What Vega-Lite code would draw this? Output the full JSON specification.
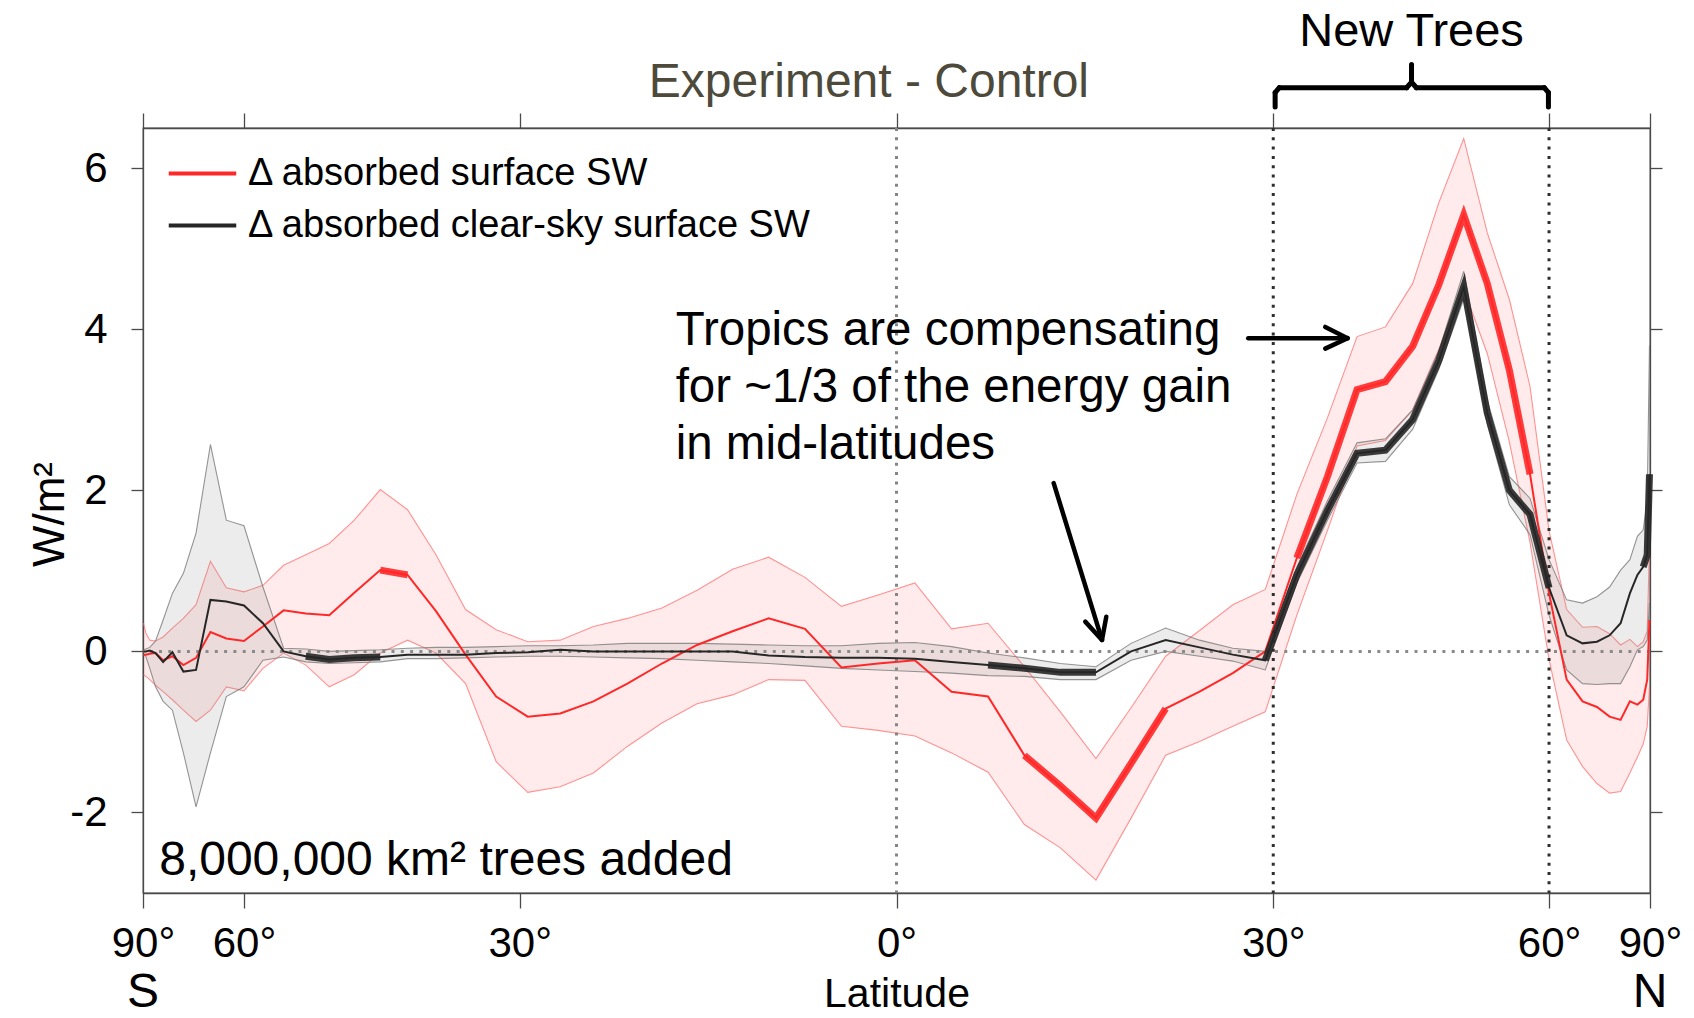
{
  "$schema": "https://vega.github.io/schema/vega-lite/v6.json",
  "width": 1507,
  "height": 765,
  "autosize": {"type": "none"},
  "padding": {"left": 143, "top": 128, "right": 44, "bottom": 125},
  "background": "white",
  "config": {
    "font": "Liberation Sans",
    "view": {"stroke": "#4a4a4a", "strokeWidth": 1.3},
    "text": {"font": "Liberation Sans"}
  },
  "datasets": {
    "zonal": [
      {"series": "Δ absorbed surface SW", "sinlat": -0.9993, "dsw": -0.04, "lo": -0.29, "hi": 0.35},
      {"series": "Δ absorbed surface SW", "sinlat": -0.9963, "dsw": -0.04, "lo": -0.31, "hi": 0.23},
      {"series": "Δ absorbed surface SW", "sinlat": -0.9910, "dsw": -0.03, "lo": -0.35, "hi": 0.14},
      {"series": "Δ absorbed surface SW", "sinlat": -0.9833, "dsw": -0.02, "lo": -0.42, "hi": 0.13},
      {"series": "Δ absorbed surface SW", "sinlat": -0.9733, "dsw": -0.11, "lo": -0.50, "hi": 0.18},
      {"series": "Δ absorbed surface SW", "sinlat": -0.9610, "dsw": -0.06, "lo": -0.60, "hi": 0.29},
      {"series": "Δ absorbed surface SW", "sinlat": -0.9464, "dsw": -0.17, "lo": -0.73, "hi": 0.41},
      {"series": "Δ absorbed surface SW", "sinlat": -0.9296, "dsw": -0.08, "lo": -0.87, "hi": 0.58},
      {"series": "Δ absorbed surface SW", "sinlat": -0.9105, "dsw": 0.24, "lo": -0.73, "hi": 1.12},
      {"series": "Δ absorbed surface SW", "sinlat": -0.8894, "dsw": 0.16, "lo": -0.44, "hi": 0.79},
      {"series": "Δ absorbed surface SW", "sinlat": -0.8660, "dsw": 0.13, "lo": -0.49, "hi": 0.74},
      {"series": "Δ absorbed surface SW", "sinlat": -0.8408, "dsw": 0.31, "lo": -0.21, "hi": 0.82},
      {"series": "Δ absorbed surface SW", "sinlat": -0.8134, "dsw": 0.51, "lo": -0.02, "hi": 1.07},
      {"series": "Δ absorbed surface SW", "sinlat": -0.7840, "dsw": 0.47, "lo": -0.17, "hi": 1.20},
      {"series": "Δ absorbed surface SW", "sinlat": -0.7528, "dsw": 0.45, "lo": -0.44, "hi": 1.34},
      {"series": "Δ absorbed surface SW", "sinlat": -0.7196, "dsw": 0.73, "lo": -0.29, "hi": 1.63},
      {"series": "Δ absorbed surface SW", "sinlat": -0.6851, "dsw": 1.01, "lo": -0.02, "hi": 2.01, "run": "R1"},
      {"series": "Δ absorbed surface SW", "sinlat": -0.6489, "dsw": 0.95, "lo": 0.14, "hi": 1.76, "run": "R1"},
      {"series": "Δ absorbed surface SW", "sinlat": -0.6112, "dsw": 0.50, "lo": -0.02, "hi": 1.20},
      {"series": "Δ absorbed surface SW", "sinlat": -0.5719, "dsw": -0.04, "lo": -0.40, "hi": 0.52},
      {"series": "Δ absorbed surface SW", "sinlat": -0.5313, "dsw": -0.56, "lo": -1.37, "hi": 0.27},
      {"series": "Δ absorbed surface SW", "sinlat": -0.4894, "dsw": -0.81, "lo": -1.75, "hi": 0.12},
      {"series": "Δ absorbed surface SW", "sinlat": -0.4463, "dsw": -0.77, "lo": -1.68, "hi": 0.14},
      {"series": "Δ absorbed surface SW", "sinlat": -0.4022, "dsw": -0.62, "lo": -1.51, "hi": 0.31},
      {"series": "Δ absorbed surface SW", "sinlat": -0.3572, "dsw": -0.40, "lo": -1.18, "hi": 0.41},
      {"series": "Δ absorbed surface SW", "sinlat": -0.3113, "dsw": -0.15, "lo": -0.89, "hi": 0.54},
      {"series": "Δ absorbed surface SW", "sinlat": -0.2647, "dsw": 0.08, "lo": -0.65, "hi": 0.76},
      {"series": "Δ absorbed surface SW", "sinlat": -0.2175, "dsw": 0.25, "lo": -0.54, "hi": 1.02},
      {"series": "Δ absorbed surface SW", "sinlat": -0.1697, "dsw": 0.41, "lo": -0.35, "hi": 1.17},
      {"series": "Δ absorbed surface SW", "sinlat": -0.1215, "dsw": 0.28, "lo": -0.36, "hi": 0.92},
      {"series": "Δ absorbed surface SW", "sinlat": -0.0731, "dsw": -0.20, "lo": -0.93, "hi": 0.56},
      {"series": "Δ absorbed surface SW", "sinlat": -0.0244, "dsw": -0.15, "lo": -0.98, "hi": 0.70},
      {"series": "Δ absorbed surface SW", "sinlat": 0.0244, "dsw": -0.11, "lo": -1.05, "hi": 0.85},
      {"series": "Δ absorbed surface SW", "sinlat": 0.0731, "dsw": -0.50, "lo": -1.26, "hi": 0.28},
      {"series": "Δ absorbed surface SW", "sinlat": 0.1215, "dsw": -0.56, "lo": -1.50, "hi": 0.35},
      {"series": "Δ absorbed surface SW", "sinlat": 0.1697, "dsw": -1.29, "lo": -2.15, "hi": -0.19, "run": "R2"},
      {"series": "Δ absorbed surface SW", "sinlat": 0.2175, "dsw": -1.67, "lo": -2.44, "hi": -0.75, "run": "R2"},
      {"series": "Δ absorbed surface SW", "sinlat": 0.2647, "dsw": -2.07, "lo": -2.84, "hi": -1.33, "run": "R2"},
      {"series": "Δ absorbed surface SW", "sinlat": 0.3113, "dsw": -1.39, "lo": -2.07, "hi": -0.70, "run": "R2"},
      {"series": "Δ absorbed surface SW", "sinlat": 0.3572, "dsw": -0.71, "lo": -1.29, "hi": -0.06, "run": "R2"},
      {"series": "Δ absorbed surface SW", "sinlat": 0.4022, "dsw": -0.50, "lo": -1.12, "hi": 0.26},
      {"series": "Δ absorbed surface SW", "sinlat": 0.4463, "dsw": -0.27, "lo": -0.93, "hi": 0.58},
      {"series": "Δ absorbed surface SW", "sinlat": 0.4894, "dsw": 0.00, "lo": -0.75, "hi": 0.77},
      {"series": "Δ absorbed surface SW", "sinlat": 0.5313, "dsw": 1.16, "lo": 0.45, "hi": 1.95, "run": "R3"},
      {"series": "Δ absorbed surface SW", "sinlat": 0.5719, "dsw": 2.17, "lo": 1.50, "hi": 2.90, "run": "R3"},
      {"series": "Δ absorbed surface SW", "sinlat": 0.6112, "dsw": 3.25, "lo": 2.55, "hi": 3.91, "run": "R3"},
      {"series": "Δ absorbed surface SW", "sinlat": 0.6489, "dsw": 3.35, "lo": 2.62, "hi": 4.03, "run": "R3"},
      {"series": "Δ absorbed surface SW", "sinlat": 0.6851, "dsw": 3.79, "lo": 3.00, "hi": 4.57, "run": "R3"},
      {"series": "Δ absorbed surface SW", "sinlat": 0.7196, "dsw": 4.55, "lo": 3.75, "hi": 5.57, "run": "R3"},
      {"series": "Δ absorbed surface SW", "sinlat": 0.7528, "dsw": 5.42, "lo": 4.50, "hi": 6.37, "run": "R3"},
      {"series": "Δ absorbed surface SW", "sinlat": 0.7840, "dsw": 4.57, "lo": 3.70, "hi": 5.20, "run": "R3"},
      {"series": "Δ absorbed surface SW", "sinlat": 0.8134, "dsw": 3.49, "lo": 2.60, "hi": 4.37, "run": "R3"},
      {"series": "Δ absorbed surface SW", "sinlat": 0.8408, "dsw": 2.20, "lo": 1.35, "hi": 3.29, "run": "R3"},
      {"series": "Δ absorbed surface SW", "sinlat": 0.8660, "dsw": 0.72, "lo": -0.10, "hi": 1.50},
      {"series": "Δ absorbed surface SW", "sinlat": 0.8894, "dsw": -0.35, "lo": -1.10, "hi": 0.52},
      {"series": "Δ absorbed surface SW", "sinlat": 0.9105, "dsw": -0.62, "lo": -1.43, "hi": 0.30},
      {"series": "Δ absorbed surface SW", "sinlat": 0.9296, "dsw": -0.69, "lo": -1.64, "hi": 0.31},
      {"series": "Δ absorbed surface SW", "sinlat": 0.9464, "dsw": -0.81, "lo": -1.76, "hi": 0.22},
      {"series": "Δ absorbed surface SW", "sinlat": 0.9610, "dsw": -0.85, "lo": -1.74, "hi": 0.08},
      {"series": "Δ absorbed surface SW", "sinlat": 0.9733, "dsw": -0.62, "lo": -1.51, "hi": 0.15},
      {"series": "Δ absorbed surface SW", "sinlat": 0.9833, "dsw": -0.66, "lo": -1.31, "hi": 0.06},
      {"series": "Δ absorbed surface SW", "sinlat": 0.9910, "dsw": -0.60, "lo": -1.15, "hi": 0.12},
      {"series": "Δ absorbed surface SW", "sinlat": 0.9963, "dsw": -0.35, "lo": -0.93, "hi": 0.25},
      {"series": "Δ absorbed surface SW", "sinlat": 0.9993, "dsw": 0.39, "lo": -0.44, "hi": 1.30},

      {"series": "Δ absorbed clear-sky surface SW", "sinlat": -0.9993, "dsw": 0.00, "lo": -0.04, "hi": 0.02},
      {"series": "Δ absorbed clear-sky surface SW", "sinlat": -0.9963, "dsw": 0.00, "lo": -0.06, "hi": 0.03},
      {"series": "Δ absorbed clear-sky surface SW", "sinlat": -0.9910, "dsw": 0.01, "lo": -0.21, "hi": 0.05},
      {"series": "Δ absorbed clear-sky surface SW", "sinlat": -0.9833, "dsw": -0.02, "lo": -0.44, "hi": 0.13},
      {"series": "Δ absorbed clear-sky surface SW", "sinlat": -0.9733, "dsw": -0.13, "lo": -0.62, "hi": 0.39},
      {"series": "Δ absorbed clear-sky surface SW", "sinlat": -0.9610, "dsw": -0.01, "lo": -0.73, "hi": 0.72},
      {"series": "Δ absorbed clear-sky surface SW", "sinlat": -0.9464, "dsw": -0.25, "lo": -1.26, "hi": 0.97},
      {"series": "Δ absorbed clear-sky surface SW", "sinlat": -0.9296, "dsw": -0.23, "lo": -1.93, "hi": 1.47},
      {"series": "Δ absorbed clear-sky surface SW", "sinlat": -0.9105, "dsw": 0.64, "lo": -1.26, "hi": 2.57},
      {"series": "Δ absorbed clear-sky surface SW", "sinlat": -0.8894, "dsw": 0.62, "lo": -0.56, "hi": 1.63},
      {"series": "Δ absorbed clear-sky surface SW", "sinlat": -0.8660, "dsw": 0.57, "lo": -0.44, "hi": 1.56},
      {"series": "Δ absorbed clear-sky surface SW", "sinlat": -0.8408, "dsw": 0.35, "lo": -0.11, "hi": 0.80},
      {"series": "Δ absorbed clear-sky surface SW", "sinlat": -0.8134, "dsw": 0.00, "lo": -0.07, "hi": 0.04},
      {"series": "Δ absorbed clear-sky surface SW", "sinlat": -0.7840, "dsw": -0.06, "lo": -0.13, "hi": 0.03, "run": "B1"},
      {"series": "Δ absorbed clear-sky surface SW", "sinlat": -0.7528, "dsw": -0.10, "lo": -0.15, "hi": 0.00, "run": "B1"},
      {"series": "Δ absorbed clear-sky surface SW", "sinlat": -0.7196, "dsw": -0.08, "lo": -0.14, "hi": 0.01, "run": "B1"},
      {"series": "Δ absorbed clear-sky surface SW", "sinlat": -0.6851, "dsw": -0.07, "lo": -0.13, "hi": 0.02, "run": "B1"},
      {"series": "Δ absorbed clear-sky surface SW", "sinlat": -0.6489, "dsw": -0.04, "lo": -0.09, "hi": 0.04},
      {"series": "Δ absorbed clear-sky surface SW", "sinlat": -0.6112, "dsw": -0.04, "lo": -0.09, "hi": 0.05},
      {"series": "Δ absorbed clear-sky surface SW", "sinlat": -0.5719, "dsw": -0.04, "lo": -0.08, "hi": 0.05},
      {"series": "Δ absorbed clear-sky surface SW", "sinlat": -0.5313, "dsw": -0.02, "lo": -0.07, "hi": 0.06},
      {"series": "Δ absorbed clear-sky surface SW", "sinlat": -0.4894, "dsw": -0.01, "lo": -0.06, "hi": 0.07},
      {"series": "Δ absorbed clear-sky surface SW", "sinlat": -0.4463, "dsw": 0.02, "lo": -0.06, "hi": 0.07},
      {"series": "Δ absorbed clear-sky surface SW", "sinlat": -0.4022, "dsw": 0.00, "lo": -0.07, "hi": 0.08},
      {"series": "Δ absorbed clear-sky surface SW", "sinlat": -0.3572, "dsw": 0.00, "lo": -0.08, "hi": 0.10},
      {"series": "Δ absorbed clear-sky surface SW", "sinlat": -0.3113, "dsw": 0.00, "lo": -0.09, "hi": 0.10},
      {"series": "Δ absorbed clear-sky surface SW", "sinlat": -0.2647, "dsw": 0.00, "lo": -0.11, "hi": 0.10},
      {"series": "Δ absorbed clear-sky surface SW", "sinlat": -0.2175, "dsw": 0.00, "lo": -0.13, "hi": 0.09},
      {"series": "Δ absorbed clear-sky surface SW", "sinlat": -0.1697, "dsw": -0.05, "lo": -0.15, "hi": 0.08},
      {"series": "Δ absorbed clear-sky surface SW", "sinlat": -0.1215, "dsw": -0.07, "lo": -0.18, "hi": 0.07},
      {"series": "Δ absorbed clear-sky surface SW", "sinlat": -0.0731, "dsw": -0.08, "lo": -0.21, "hi": 0.07},
      {"series": "Δ absorbed clear-sky surface SW", "sinlat": -0.0244, "dsw": -0.08, "lo": -0.23, "hi": 0.10},
      {"series": "Δ absorbed clear-sky surface SW", "sinlat": 0.0244, "dsw": -0.09, "lo": -0.25, "hi": 0.11},
      {"series": "Δ absorbed clear-sky surface SW", "sinlat": 0.0731, "dsw": -0.13, "lo": -0.27, "hi": 0.06},
      {"series": "Δ absorbed clear-sky surface SW", "sinlat": 0.1215, "dsw": -0.17, "lo": -0.30, "hi": -0.02, "run": "B2"},
      {"series": "Δ absorbed clear-sky surface SW", "sinlat": 0.1697, "dsw": -0.21, "lo": -0.31, "hi": -0.08, "run": "B2"},
      {"series": "Δ absorbed clear-sky surface SW", "sinlat": 0.2175, "dsw": -0.26, "lo": -0.35, "hi": -0.15, "run": "B2"},
      {"series": "Δ absorbed clear-sky surface SW", "sinlat": 0.2647, "dsw": -0.26, "lo": -0.35, "hi": -0.19, "run": "B2"},
      {"series": "Δ absorbed clear-sky surface SW", "sinlat": 0.3113, "dsw": 0.00, "lo": -0.11, "hi": 0.10},
      {"series": "Δ absorbed clear-sky surface SW", "sinlat": 0.3572, "dsw": 0.14, "lo": 0.00, "hi": 0.29},
      {"series": "Δ absorbed clear-sky surface SW", "sinlat": 0.4022, "dsw": 0.05, "lo": -0.06, "hi": 0.14},
      {"series": "Δ absorbed clear-sky surface SW", "sinlat": 0.4463, "dsw": -0.04, "lo": -0.12, "hi": 0.04},
      {"series": "Δ absorbed clear-sky surface SW", "sinlat": 0.4894, "dsw": -0.11, "lo": -0.23, "hi": 0.00, "run": "B3"},
      {"series": "Δ absorbed clear-sky surface SW", "sinlat": 0.5313, "dsw": 0.95, "lo": 0.85, "hi": 1.05, "run": "B3"},
      {"series": "Δ absorbed clear-sky surface SW", "sinlat": 0.5719, "dsw": 1.75, "lo": 1.63, "hi": 1.87, "run": "B3"},
      {"series": "Δ absorbed clear-sky surface SW", "sinlat": 0.6112, "dsw": 2.46, "lo": 2.34, "hi": 2.59, "run": "B3"},
      {"series": "Δ absorbed clear-sky surface SW", "sinlat": 0.6489, "dsw": 2.50, "lo": 2.36, "hi": 2.64, "run": "B3"},
      {"series": "Δ absorbed clear-sky surface SW", "sinlat": 0.6851, "dsw": 2.88, "lo": 2.76, "hi": 3.00, "run": "B3"},
      {"series": "Δ absorbed clear-sky surface SW", "sinlat": 0.7196, "dsw": 3.61, "lo": 3.50, "hi": 3.73, "run": "B3"},
      {"series": "Δ absorbed clear-sky surface SW", "sinlat": 0.7528, "dsw": 4.53, "lo": 4.38, "hi": 4.72, "run": "B3"},
      {"series": "Δ absorbed clear-sky surface SW", "sinlat": 0.7840, "dsw": 2.96, "lo": 2.82, "hi": 3.12, "run": "B3"},
      {"series": "Δ absorbed clear-sky surface SW", "sinlat": 0.8134, "dsw": 2.00, "lo": 1.82, "hi": 2.17, "run": "B3"},
      {"series": "Δ absorbed clear-sky surface SW", "sinlat": 0.8408, "dsw": 1.70, "lo": 1.45, "hi": 1.90, "run": "B3"},
      {"series": "Δ absorbed clear-sky surface SW", "sinlat": 0.8660, "dsw": 0.79, "lo": 0.45, "hi": 1.14, "run": "B3"},
      {"series": "Δ absorbed clear-sky surface SW", "sinlat": 0.8894, "dsw": 0.20, "lo": -0.23, "hi": 0.64},
      {"series": "Δ absorbed clear-sky surface SW", "sinlat": 0.9105, "dsw": 0.10, "lo": -0.40, "hi": 0.60},
      {"series": "Δ absorbed clear-sky surface SW", "sinlat": 0.9296, "dsw": 0.12, "lo": -0.41, "hi": 0.68},
      {"series": "Δ absorbed clear-sky surface SW", "sinlat": 0.9464, "dsw": 0.20, "lo": -0.40, "hi": 0.80},
      {"series": "Δ absorbed clear-sky surface SW", "sinlat": 0.9610, "dsw": 0.35, "lo": -0.40, "hi": 1.01},
      {"series": "Δ absorbed clear-sky surface SW", "sinlat": 0.9733, "dsw": 0.72, "lo": -0.19, "hi": 1.14},
      {"series": "Δ absorbed clear-sky surface SW", "sinlat": 0.9833, "dsw": 0.95, "lo": 0.02, "hi": 1.43},
      {"series": "Δ absorbed clear-sky surface SW", "sinlat": 0.9910, "dsw": 1.05, "lo": 0.06, "hi": 1.51, "run": "B4"},
      {"series": "Δ absorbed clear-sky surface SW", "sinlat": 0.9963, "dsw": 1.20, "lo": 0.14, "hi": 1.88, "run": "B4"},
      {"series": "Δ absorbed clear-sky surface SW", "sinlat": 0.9993, "dsw": 2.20, "lo": 0.60, "hi": 3.80, "run": "B4"}
    ]
  },
  "resolve": {"axis": {"x": "independent", "y": "independent"}},
  "layer": [
    {
      "data": {"name": "zonal"},
      "transform": [{"filter": {"field": "series", "equal": "Δ absorbed surface SW"}}],
      "mark": {"type": "area", "color": "#ff0000", "opacity": 0.08},
      "encoding": {
        "x": {"field": "sinlat", "type": "quantitative",
              "scale": {"domain": [-1, 1], "nice": false, "zero": false},
              "axis": {"orient": "top", "labels": false, "title": null, "grid": false,
                       "values": [-1, -0.866, -0.5, 0, 0.5, 0.866, 1],
                       "tickSize": 15, "tickColor": "#4a4a4a", "tickWidth": 1.3,
                       "domainColor": "#4a4a4a", "domainWidth": 1.3}},
        "y": {"field": "lo", "type": "quantitative",
              "scale": {"domain": [-3, 6.5], "nice": false, "zero": false},
              "axis": {"orient": "right", "labels": false, "title": null, "grid": false,
                       "values": [-2, 0, 2, 4, 6],
                       "tickSize": 12, "tickColor": "#4a4a4a", "tickWidth": 1.3,
                       "domainColor": "#4a4a4a", "domainWidth": 1.3}},
        "y2": {"field": "hi"}
      }
    },
    {
      "data": {"name": "zonal"},
      "transform": [{"filter": {"field": "series", "equal": "Δ absorbed surface SW"}}],
      "mark": {"type": "line", "color": "#ff7070", "strokeWidth": 1.1, "opacity": 0.75},
      "encoding": {
        "x": {"field": "sinlat", "type": "quantitative", "axis": null},
        "y": {"field": "lo", "type": "quantitative", "axis": null}
      }
    },
    {
      "data": {"name": "zonal"},
      "transform": [{"filter": {"field": "series", "equal": "Δ absorbed surface SW"}}],
      "mark": {"type": "line", "color": "#ff7070", "strokeWidth": 1.1, "opacity": 0.75},
      "encoding": {
        "x": {"field": "sinlat", "type": "quantitative", "axis": null},
        "y": {"field": "hi", "type": "quantitative", "axis": null}
      }
    },
    {
      "data": {"name": "zonal"},
      "transform": [{"filter": {"field": "series", "equal": "Δ absorbed clear-sky surface SW"}}],
      "mark": {"type": "area", "color": "#8f8f8f", "opacity": 0.17},
      "encoding": {
        "x": {"field": "sinlat", "type": "quantitative", "axis": null},
        "y": {"field": "lo", "type": "quantitative", "axis": null},
        "y2": {"field": "hi"}
      }
    },
    {
      "data": {"name": "zonal"},
      "transform": [{"filter": {"field": "series", "equal": "Δ absorbed clear-sky surface SW"}}],
      "mark": {"type": "line", "color": "#7a7a7a", "strokeWidth": 1.1, "opacity": 0.8},
      "encoding": {
        "x": {"field": "sinlat", "type": "quantitative", "axis": null},
        "y": {"field": "lo", "type": "quantitative", "axis": null}
      }
    },
    {
      "data": {"name": "zonal"},
      "transform": [{"filter": {"field": "series", "equal": "Δ absorbed clear-sky surface SW"}}],
      "mark": {"type": "line", "color": "#7a7a7a", "strokeWidth": 1.1, "opacity": 0.8},
      "encoding": {
        "x": {"field": "sinlat", "type": "quantitative", "axis": null},
        "y": {"field": "hi", "type": "quantitative", "axis": null}
      }
    },
    {
      "data": {"values": [{}]},
      "layer": [
        {
          "mark": {"type": "rule", "color": "#8a8a8a", "strokeWidth": 3, "strokeDash": [3, 6.3]},
          "encoding": {"y": {"datum": 0, "type": "quantitative", "axis": null}}
        },
        {
          "mark": {"type": "rule", "color": "#858585", "strokeWidth": 3, "strokeDash": [3, 6.3]},
          "encoding": {"x": {"datum": 0, "type": "quantitative", "axis": null}}
        },
        {
          "mark": {"type": "rule", "color": "#2e2e2e", "strokeWidth": 3, "strokeDash": [3, 6.3]},
          "encoding": {"x": {"datum": 0.5, "type": "quantitative", "axis": null}}
        },
        {
          "mark": {"type": "rule", "color": "#2e2e2e", "strokeWidth": 3, "strokeDash": [3, 6.3]},
          "encoding": {"x": {"datum": 0.866, "type": "quantitative", "axis": null}}
        }
      ]
    },
    {
      "data": {"name": "zonal"},
      "mark": {"type": "line", "strokeWidth": 2},
      "encoding": {
        "x": {"field": "sinlat", "type": "quantitative",
              "axis": {"orient": "bottom", "grid": false,
                       "values": [-1, -0.866, -0.5, 0, 0.5, 0.866, 1],
                       "labelExpr": "abs(datum.value) > 0.95 ? '90°' : abs(datum.value) > 0.8 ? '60°' : abs(datum.value) > 0.3 ? '30°' : '0°'",
                       "labelFont": "Liberation Sans", "labelFontSize": 42, "labelColor": "black",
                       "labelBaseline": "alphabetic", "labelPadding": 48,
                       "labelOverlap": false, "labelFlush": false, "labelBound": false,
                       "tickSize": 15, "tickColor": "#4a4a4a", "tickWidth": 1.3,
                       "domainColor": "#4a4a4a", "domainWidth": 1.3,
                       "title": "Latitude", "titleFont": "Liberation Sans", "titleFontSize": 41,
                       "titleFontWeight": "normal", "titleColor": "black",
                       "titleBaseline": "alphabetic", "titleY": 113}},
        "y": {"field": "dsw", "type": "quantitative",
              "axis": {"orient": "left", "grid": false,
                       "values": [-2, 0, 2, 4, 6],
                       "labelExpr": "'' + datum.value",
                       "labelFont": "Liberation Sans", "labelFontSize": 42, "labelColor": "black",
                       "labelPadding": 24,
                       "tickSize": 12, "tickColor": "#4a4a4a", "tickWidth": 1.3,
                       "domainColor": "#4a4a4a", "domainWidth": 1.3,
                       "title": "W/m²", "titleFont": "Liberation Sans", "titleFontSize": 44,
                       "titleFontWeight": "normal", "titleColor": "black",
                       "titleAngle": -90, "titleAlign": "center", "titleBaseline": "alphabetic",
                       "titleX": -80, "titleY": 386}},
        "color": {"field": "series", "type": "nominal",
                  "scale": {"domain": ["Δ absorbed surface SW", "Δ absorbed clear-sky surface SW"],
                            "range": ["#ff2828", "#262626"]},
                  "legend": {"orient": "none", "legendX": 35, "legendY": 21, "title": null,
                             "direction": "vertical", "padding": 0,
                             "symbolType": "M-1.5,0H1.5", "symbolSize": 2025, "symbolStrokeWidth": 4,
                             "labelFont": "Liberation Sans", "labelFontSize": 38, "labelColor": "black",
                             "labelOffset": 21, "labelLimit": 1000, "rowPadding": 8}},
        "detail": {"field": "series"}
      }
    },
    {
      "data": {"name": "zonal"},
      "transform": [{"filter": "isValid(datum.run)"}],
      "mark": {"type": "line", "strokeWidth": 7, "opacity": 0.9},
      "encoding": {
        "x": {"field": "sinlat", "type": "quantitative", "axis": null},
        "y": {"field": "dsw", "type": "quantitative", "axis": null},
        "color": {"field": "series", "type": "nominal", "legend": null},
        "detail": {"field": "run"}
      }
    },
    {
      "data": {"values": [{}]},
      "layer": [
        {
          "mark": {"type": "text", "font": "Liberation Sans", "fontSize": 48, "color": "#4d4a3c", "align": "center", "baseline": "alphabetic", "text": "Experiment - Control"},
          "encoding": {"x": {"datum": -0.0366, "type": "quantitative", "axis": null}, "y": {"datum": 6.888, "type": "quantitative", "axis": null}}
        },
        {
          "mark": {"type": "text", "font": "Liberation Sans", "fontSize": 47, "color": "black", "align": "center", "baseline": "alphabetic", "text": "New Trees"},
          "encoding": {"x": {"datum": 0.6835, "type": "quantitative", "axis": null}, "y": {"datum": 7.516, "type": "quantitative", "axis": null}}
        },
        {
          "mark": {"type": "text", "font": "Liberation Sans", "fontSize": 47.5, "color": "black", "align": "left", "baseline": "alphabetic", "lineHeight": 56.7,
                   "text": ["Tropics are compensating", "for ~1/3 of the energy gain", "in mid-latitudes"]},
          "encoding": {"x": {"datum": -0.2931, "type": "quantitative", "axis": null}, "y": {"datum": 3.80, "type": "quantitative", "axis": null}}
        },
        {
          "mark": {"type": "text", "font": "Liberation Sans", "fontSize": 48, "color": "black", "align": "left", "baseline": "alphabetic", "text": "8,000,000 km² trees added"},
          "encoding": {"x": {"datum": -0.9785, "type": "quantitative", "axis": null}, "y": {"datum": -2.778, "type": "quantitative", "axis": null}}
        },
        {
          "mark": {"type": "text", "font": "Liberation Sans", "fontSize": 48, "color": "black", "align": "center", "baseline": "alphabetic", "text": "S"},
          "encoding": {"x": {"datum": -1, "type": "quantitative", "axis": null}, "y": {"datum": -4.415, "type": "quantitative", "axis": null}}
        },
        {
          "mark": {"type": "text", "font": "Liberation Sans", "fontSize": 48, "color": "black", "align": "center", "baseline": "alphabetic", "text": "N"},
          "encoding": {"x": {"datum": 1, "type": "quantitative", "axis": null}, "y": {"datum": -4.415, "type": "quantitative", "axis": null}}
        },
        {
          "mark": {"type": "rule", "color": "black", "strokeWidth": 4.5, "strokeCap": "round"},
          "encoding": {"x": {"datum": 0.4668, "type": "quantitative", "axis": null}, "x2": {"datum": 0.5986},
                       "y": {"datum": 3.89, "type": "quantitative", "axis": null}, "y2": {"datum": 3.89}}
        },
        {
          "mark": {"type": "rule", "color": "black", "strokeWidth": 4.5, "strokeCap": "round"},
          "encoding": {"x": {"datum": 0.569, "type": "quantitative", "axis": null}, "x2": {"datum": 0.5986},
                       "y": {"datum": 4.03, "type": "quantitative", "axis": null}, "y2": {"datum": 3.89}}
        },
        {
          "mark": {"type": "rule", "color": "black", "strokeWidth": 4.5, "strokeCap": "round"},
          "encoding": {"x": {"datum": 0.569, "type": "quantitative", "axis": null}, "x2": {"datum": 0.5986},
                       "y": {"datum": 3.76, "type": "quantitative", "axis": null}, "y2": {"datum": 3.89}}
        },
        {
          "mark": {"type": "rule", "color": "black", "strokeWidth": 4.5, "strokeCap": "round"},
          "encoding": {"x": {"datum": 0.2086, "type": "quantitative", "axis": null}, "x2": {"datum": 0.2727},
                       "y": {"datum": 2.09, "type": "quantitative", "axis": null}, "y2": {"datum": 0.143}}
        },
        {
          "mark": {"type": "rule", "color": "black", "strokeWidth": 4.5, "strokeCap": "round"},
          "encoding": {"x": {"datum": 0.2505, "type": "quantitative", "axis": null}, "x2": {"datum": 0.2727},
                       "y": {"datum": 0.37, "type": "quantitative", "axis": null}, "y2": {"datum": 0.143}}
        },
        {
          "mark": {"type": "rule", "color": "black", "strokeWidth": 4.5, "strokeCap": "round"},
          "encoding": {"x": {"datum": 0.2784, "type": "quantitative", "axis": null}, "x2": {"datum": 0.2727},
                       "y": {"datum": 0.43, "type": "quantitative", "axis": null}, "y2": {"datum": 0.143}}
        },
        {
          "mark": {"type": "rule", "color": "black", "strokeWidth": 5, "strokeCap": "round"},
          "encoding": {"x": {"datum": 0.5025, "type": "quantitative", "axis": null}, "x2": {"datum": 0.5025},
                       "y": {"datum": 6.76, "type": "quantitative", "axis": null}, "y2": {"datum": 6.94}}
        },
        {
          "mark": {"type": "rule", "color": "black", "strokeWidth": 5, "strokeCap": "round"},
          "encoding": {"x": {"datum": 0.5025, "type": "quantitative", "axis": null}, "x2": {"datum": 0.508},
                       "y": {"datum": 6.94, "type": "quantitative", "axis": null}, "y2": {"datum": 7.0}}
        },
        {
          "mark": {"type": "rule", "color": "black", "strokeWidth": 5, "strokeCap": "round"},
          "encoding": {"x": {"datum": 0.508, "type": "quantitative", "axis": null}, "x2": {"datum": 0.677},
                       "y": {"datum": 7.0, "type": "quantitative", "axis": null}, "y2": {"datum": 7.0}}
        },
        {
          "mark": {"type": "rule", "color": "black", "strokeWidth": 5, "strokeCap": "round"},
          "encoding": {"x": {"datum": 0.677, "type": "quantitative", "axis": null}, "x2": {"datum": 0.6835},
                       "y": {"datum": 7.0, "type": "quantitative", "axis": null}, "y2": {"datum": 7.07}}
        },
        {
          "mark": {"type": "rule", "color": "black", "strokeWidth": 5, "strokeCap": "round"},
          "encoding": {"x": {"datum": 0.6835, "type": "quantitative", "axis": null}, "x2": {"datum": 0.6835},
                       "y": {"datum": 7.07, "type": "quantitative", "axis": null}, "y2": {"datum": 7.29}}
        },
        {
          "mark": {"type": "rule", "color": "black", "strokeWidth": 5, "strokeCap": "round"},
          "encoding": {"x": {"datum": 0.6835, "type": "quantitative", "axis": null}, "x2": {"datum": 0.69},
                       "y": {"datum": 7.07, "type": "quantitative", "axis": null}, "y2": {"datum": 7.0}}
        },
        {
          "mark": {"type": "rule", "color": "black", "strokeWidth": 5, "strokeCap": "round"},
          "encoding": {"x": {"datum": 0.69, "type": "quantitative", "axis": null}, "x2": {"datum": 0.8597},
                       "y": {"datum": 7.0, "type": "quantitative", "axis": null}, "y2": {"datum": 7.0}}
        },
        {
          "mark": {"type": "rule", "color": "black", "strokeWidth": 5, "strokeCap": "round"},
          "encoding": {"x": {"datum": 0.8597, "type": "quantitative", "axis": null}, "x2": {"datum": 0.8652},
                       "y": {"datum": 7.0, "type": "quantitative", "axis": null}, "y2": {"datum": 6.94}}
        },
        {
          "mark": {"type": "rule", "color": "black", "strokeWidth": 5, "strokeCap": "round"},
          "encoding": {"x": {"datum": 0.8652, "type": "quantitative", "axis": null}, "x2": {"datum": 0.8652},
                       "y": {"datum": 6.94, "type": "quantitative", "axis": null}, "y2": {"datum": 6.76}}
        }
      ]
    }
  ]
}
